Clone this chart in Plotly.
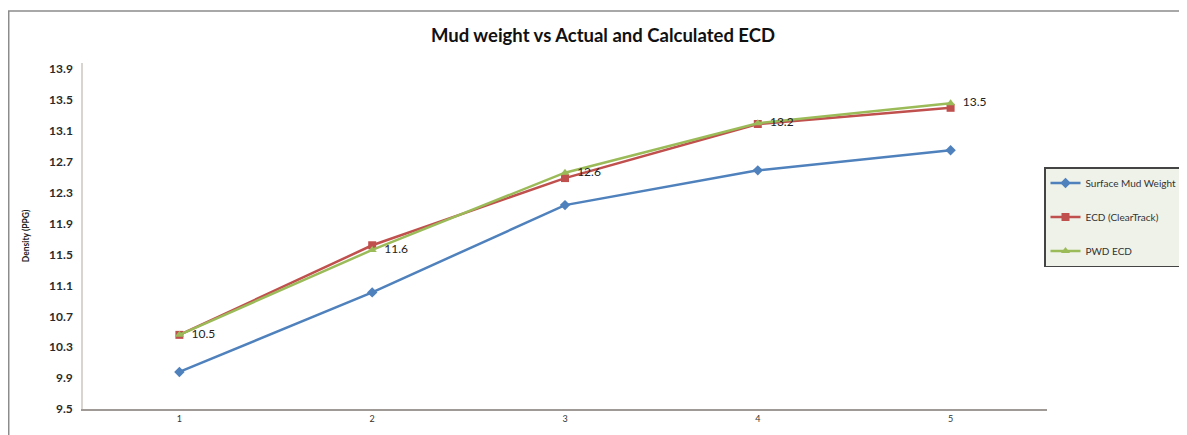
import plotly.graph_objects as go

categories = [1, 2, 3, 4, 5]
surface_mud_weight = [9.98, 11.01, 12.14, 12.59, 12.85]
ecd_cleartrack = [10.46, 11.62, 12.49, 13.19, 13.40]
pwd_ecd = [10.46, 11.56, 12.56, 13.20, 13.46]
y_ticks = [9.5, 9.9, 10.3, 10.7, 11.1, 11.5, 11.9, 12.3, 12.7, 13.1, 13.5, 13.9]

FONT = "Lato"
W, H = 1187, 435
OFF = 8  # page body margin offset
L, R, T, B = 83 - OFF, W - (1050 - OFF), 63 - OFF, H - (409 - OFF)
PW = W - L - R
PH = H - T - B

fig = go.Figure()
fig.add_trace(go.Scatter(
    x=categories, y=surface_mud_weight, name="Surface Mud Weight",
    mode="lines+markers", legendgroup="a",
    line=dict(color="#4f81bd", width=2.5),
    marker=dict(symbol="diamond", size=8, color="#4f81bd"),
))
fig.add_trace(go.Scatter(
    x=categories, y=ecd_cleartrack, name="ECD (ClearTrack)",
    mode="lines+markers", legendgroup="b",
    line=dict(color="#c0504d", width=2.5),
    marker=dict(symbol="square", size=8, color="#c0504d"),
))
fig.add_trace(go.Scatter(
    x=categories, y=pwd_ecd, name="PWD ECD",
    mode="lines+markers+text", legendgroup="c",
    line=dict(color="#9bbb59", width=2.5),
    marker=dict(symbol="triangle-up", size=8, color="#9bbb59"),
    texttemplate="  %{y:.1f}", textposition="middle right",
    textfont=dict(family=FONT, size=12, color="#222222"),
))

fig.update_layout(
    width=W, height=H,
    margin=dict(l=L, r=R, t=T, b=B),
    paper_bgcolor="white", plot_bgcolor="white",
    title=dict(text="<b>Mud weight vs Actual and Calculated ECD</b>",
               x=(603 - OFF) / W, xanchor="center", y=1 - (36 - OFF) / H, yanchor="middle",
               font=dict(family=FONT, size=18.5, color="#111111")),
    xaxis=dict(range=[0.5, 5.5], tickvals=categories, ticktext=[str(c) for c in categories],
               showgrid=False, zeroline=False, showline=True, linecolor="#a09a96", linewidth=2,
               ticks="", tickfont=dict(family=FONT, size=9, color="#333333")),
    yaxis=dict(range=[9.5, 13.98], tickvals=y_ticks, ticktext=[f"<b>{v:.1f}</b>" for v in y_ticks],
               showgrid=False, zeroline=False, showline=True, linecolor="#d8d4d0", linewidth=1.5,
               ticks="", ticklabelstandoff=6,
               tickfont=dict(family=FONT, size=12, color="#2a2a2a"),
               title=dict(text="<b>Density (PPG)</b>", standoff=18,
                          font=dict(family=FONT, size=8.5, color="#222222"))),
    legend=dict(x=(1047 - OFF - L) / PW, xanchor="left", y=1 - (167 - 63) / PH, yanchor="top",
                bgcolor="#eef2e8", bordercolor="#444444", borderwidth=1.5,
                font=dict(family=FONT, size=10, color="#333333"),
                traceorder="grouped", tracegroupgap=15, entrywidth=114),
    showlegend=True,
    shapes=[dict(type="rect", xref="paper", yref="paper",
                 x0=(0.5 - L) / PW, x1=(W + 50 - L) / PW,
                 y0=-0.3, y1=1 + (T - 3) / PH,
                 line=dict(color="#8c8c8c", width=1.5), fillcolor="rgba(0,0,0,0)",
                 layer="below")],
)

fig.write_html("out.html")
